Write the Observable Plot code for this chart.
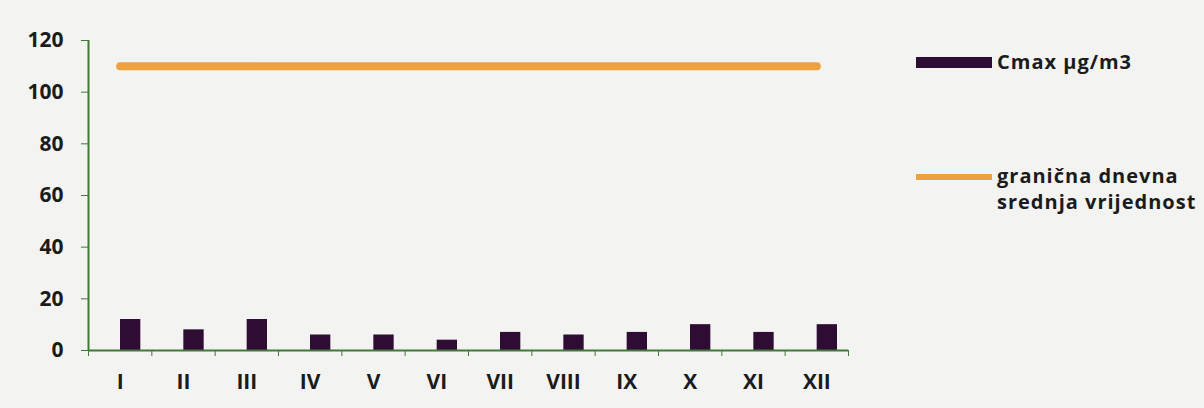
<!DOCTYPE html>
<html>
<head>
<meta charset="utf-8">
<script src="https://cdn.jsdelivr.net/npm/d3@7"></script>
<script src="https://cdn.jsdelivr.net/npm/@observablehq/plot@0.6"></script>
<style>
  html, body { margin: 0; padding: 0; background: #f3f3f1; }
  #wrap { position: relative; width: 1204px; height: 408px; font-family: "Open Sans", sans-serif; }
  .legend { position: absolute; left: 916px; font-weight: 700; font-size: 20px; letter-spacing: 1px; color: #1b1b1b; line-height: 26px; }
  .legend .sw { position: absolute; left: 0; width: 76px; }
  .legend .lbl { position: absolute; left: 81px; white-space: nowrap; }
</style>
</head>
<body>
<div id="wrap"></div>
<script>
// Monthly maxima and the daily mean limit value
const months = ["I", "II", "III", "IV", "V", "VI", "VII", "VIII", "IX", "X", "XI", "XII"];
const cmax = [12, 8, 12, 6, 6, 4, 7, 6, 7, 10, 7, 10];
const limitValue = 110;
const yTicks = [0, 20, 40, 60, 80, 100, 120];

const seriesNames = ["Cmax µg/m3", ["granična dnevna", "srednja vrijednost"]];
const barColor = "#2e0c33";
const lineColor = "#eea23f";
const axisColor = "#3f7a37";

const rows = months.map((m, i) => ({month: m, i, value: cmax[i], limit: limitValue}));

const chart = Plot.plot({
  width: 1204,
  height: 408,
  marginLeft: 88,
  marginRight: 356,
  marginTop: 40,
  marginBottom: 58,
  style: {background: "transparent", fontFamily: "Open Sans, sans-serif", color: "#1b1b1b"},
  x: {type: "linear", domain: [0, months.length]},
  y: {domain: [0, 120]},
  marks: [
    // y axis: tick labels and ticks
    Plot.axisY({ticks: yTicks, tickSize: 7, tickPadding: 18, stroke: axisColor, fontSize: 21, fontWeight: 700, fill: "#1b1b1b", label: null}),
    Plot.ruleX([0], {stroke: axisColor, strokeWidth: 2}),
    // bars
    Plot.rectY(rows, {x1: d => d.i, x2: d => d.i + 1, y: "value", insetLeft: 32, insetRight: 11, fill: barColor}),
    // x axis baseline and category boundary ticks
    Plot.ruleY([0], {stroke: axisColor, strokeWidth: 2}),
    Plot.axisX({ticks: d3.range(months.length + 1), tickSize: 6, tickFormat: () => "", stroke: axisColor, label: null}),
    // month labels at category centres
    Plot.axisX({ticks: months.map((m, i) => i + 0.5), tickSize: 0, tickPadding: 24, tickFormat: v => months[Math.floor(v)], fontSize: 21, fontWeight: 700, fill: "#1b1b1b", label: null}),
    // limit value line
    Plot.lineY(rows, {x: d => d.i + 0.5, y: "limit", stroke: lineColor, strokeWidth: 8})
  ]
});

const wrap = document.getElementById("wrap");
wrap.appendChild(chart);

// legend
const legend = document.createElement("div");
legend.className = "legend";
legend.style.top = "0px";
legend.innerHTML = `
  <div class="sw" style="top:57px;height:11px;background:${barColor}"></div>
  <div class="lbl" style="top:49px">${seriesNames[0]}</div>
  <div class="sw" style="top:174px;height:6px;background:${lineColor}"></div>
  <div class="lbl" style="top:163px">${seriesNames[1][0]}<br>${seriesNames[1][1]}</div>
`;
wrap.appendChild(legend);
</script>
</body>
</html>
